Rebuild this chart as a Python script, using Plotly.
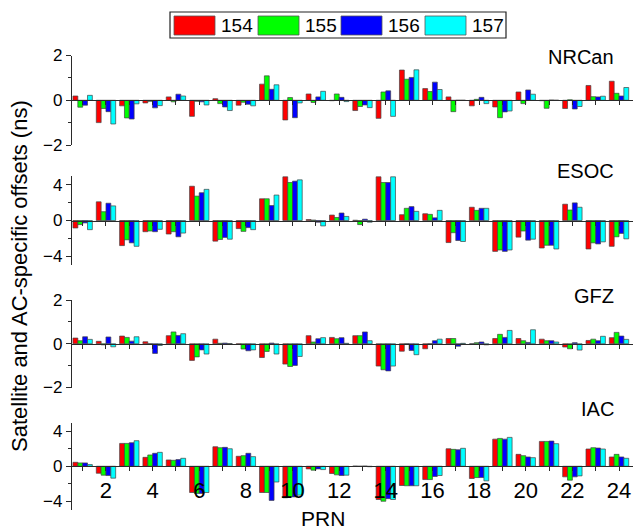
import plotly.graph_objects as go

# ---- data -------------------------------------------------------------
prn = list(range(1, 25))
series_names = ["154", "155", "156", "157"]
series_colors = ["#FF0000", "#00FF00", "#0000FF", "#00FFFF"]
centers = ["NRCan", "ESOC", "GFZ", "IAC"]

nrcan_154 = [0.19, -1.00, -0.25, -0.12, 0.15, -0.72, 0.07, -0.22, 0.72, -0.88, 0.28, -0.02,
             -0.46, -0.81, 1.35, 0.52, 0.15, -0.25, -0.30, 0.37, -0.02, -0.37, 0.66, 0.85]
nrcan_155 = [-0.31, -0.37, -0.79, -0.05, -0.07, -0.05, -0.15, -0.09, 1.09, 0.12, -0.10, 0.28,
             -0.28, 0.37, 0.94, 0.39, -0.51, 0.04, -0.78, -0.15, -0.36, 0.02, 0.16, 0.31]
nrcan_156 = [-0.22, -0.51, -0.84, -0.34, 0.27, -0.07, -0.30, -0.18, 0.49, -0.78, 0.15, 0.13,
             -0.21, 0.42, 1.02, 0.81, 0.00, 0.13, -0.52, 0.46, 0.01, -0.39, 0.15, 0.19]
nrcan_157 = [0.22, -1.06, -0.16, -0.24, 0.19, -0.21, -0.46, -0.25, 0.69, -0.12, 0.40, -0.06,
             -0.33, -0.72, 1.36, 0.48, 0.00, -0.15, -0.48, 0.27, 0.00, -0.28, 0.18, 0.57]

esoc_154 = [-0.84, 2.10, -2.82, -1.26, -1.52, 3.85, -2.32, -0.91, 2.44, 4.91, 0.11, 0.61,
            0.03, 4.91, 0.65, 0.76, -2.48, 1.49, -3.47, -1.87, -3.09, 1.83, -3.20, -2.90]
esoc_155 = [-0.46, 0.99, -2.17, -1.18, -1.26, 2.74, -2.13, -1.22, 2.44, 4.27, 0.05, 0.34,
            -0.46, 4.27, 1.37, 0.69, -1.37, 1.14, -3.31, -1.18, -2.78, 1.18, -2.51, -1.83]
esoc_156 = [-0.27, 1.94, -2.51, -1.26, -1.83, 3.12, -1.90, -0.80, 1.68, 4.42, -0.19, 0.84,
            0.15, 4.27, 1.56, 0.30, -2.25, 1.37, -3.47, -2.21, -2.78, 1.98, -2.63, -1.45]
esoc_157 = [-1.03, 1.64, -2.90, -0.99, -1.41, 3.50, -2.10, -1.03, 2.86, 4.57, -0.61, 0.46,
            -0.19, 4.91, 1.03, 1.14, -2.36, 1.37, -3.31, -2.10, -3.20, 1.49, -2.40, -2.06]

gfz_154 = [0.26, 0.11, 0.35, 0.09, 0.37, -0.76, 0.21, -0.02, -0.63, -0.93, 0.37, 0.29,
           0.37, -1.02, -0.34, -0.23, 0.24, 0.00, 0.24, 0.24, 0.21, -0.15, 0.15, 0.28]
gfz_155 = [0.14, -0.05, 0.29, 0.00, 0.54, -0.60, 0.02, -0.24, -0.35, -1.04, 0.08, 0.23,
           0.37, -1.19, 0.00, 0.00, 0.24, 0.05, 0.43, 0.14, 0.14, -0.23, 0.21, 0.52]
gfz_156 = [0.32, 0.31, 0.12, -0.44, 0.38, -0.28, 0.03, -0.32, 0.03, -0.99, 0.23, 0.28,
           0.54, -1.24, -0.31, 0.14, -0.11, 0.08, 0.29, 0.06, 0.14, 0.05, 0.14, 0.35]
gfz_157 = [0.20, -0.14, 0.32, -0.08, 0.46, -0.47, 0.01, -0.28, -0.47, -0.58, 0.28, 0.02,
           0.14, -1.02, -0.50, 0.21, 0.02, -0.05, 0.61, 0.64, 0.08, -0.29, 0.34, 0.20]

iac_154 = [0.45, -0.80, 2.61, 1.02, 0.72, -3.00, 2.23, 1.14, -3.00, -3.60, -0.30, -0.83,
           0.02, -3.80, -2.20, -1.52, 2.00, -1.40, 3.10, 1.36, 2.84, -1.21, 1.97, 1.06]
iac_155 = [0.38, -1.02, 2.61, 1.29, 0.68, -3.10, 2.12, 1.21, -3.00, -3.50, -0.45, -0.98,
           0.00, -4.00, -2.23, -1.52, 1.93, -1.29, 3.18, 1.21, 2.84, -1.59, 2.12, 1.36]
iac_156 = [0.38, -1.06, 2.69, 1.48, 0.76, -3.10, 2.16, 1.48, -3.90, -3.50, -0.30, -1.06,
           0.02, -3.70, -2.23, -1.17, 1.89, -1.29, 3.10, 1.06, 2.88, -1.21, 2.08, 1.06]
iac_157 = [0.19, -1.36, 2.92, 1.59, 0.91, -3.00, 2.00, 1.10, -1.80, -3.30, -0.38, -1.02,
           -0.05, -3.80, -2.23, -1.06, 2.05, -1.67, 3.30, 0.98, 2.58, -1.10, 1.97, 0.91]

panel_values = [
    [nrcan_154, nrcan_155, nrcan_156, nrcan_157],
    [esoc_154, esoc_155, esoc_156, esoc_157],
    [gfz_154, gfz_155, gfz_156, gfz_157],
    [iac_154, iac_155, iac_156, iac_157],
]
y_limits = [2, 5, 2, 5]
y_major = [[-2, 0, 2], [-4, 0, 4], [-2, 0, 2], [-4, 0, 4]]
y_minor = [[-1, 1], [-2, 2], [-1, 1], [-2, 2]]
x_ticktext = [str(p) if p % 2 == 0 else "" for p in prn]

# ---- layout geometry (pixels) ----------------------------------------
W, H = 633, 532
ML = 71
PW = W - ML
FONT = "Liberation Sans, Arial, sans-serif"
AXIS_COLOR = "#2a2a2a"


def fx(px):
    return (px - ML) / PW


def fy(py):
    return 1 - py / H


panel_px = [(55.5, 145.0), (176.0, 265.0), (300.0, 387.5), (422.5, 510.0)]

fig = go.Figure()
layout = dict(
    width=W, height=H,
    margin=dict(l=ML, r=0, t=0, b=0, autoexpand=False),
    paper_bgcolor="white", plot_bgcolor="white",
    barmode="group", bargap=0.17, bargroupgap=0.0,
    showlegend=False,
    font=dict(family=FONT, color="black"),
)

for i, (vals, lim) in enumerate(zip(panel_values, y_limits)):
    n = i + 1
    xa = "x" if n == 1 else f"x{n}"
    ya = "y" if n == 1 else f"y{n}"
    for name, color, v in zip(series_names, series_colors, vals):
        fig.add_trace(go.Bar(
            x=prn, y=v, name=name, xaxis=xa, yaxis=ya,
            marker=dict(color=color, line=dict(color="#444444", width=0.7)),
        ))
    top, bot = panel_px[i]
    d0, d1 = fy(bot), fy(top)
    layout[f"xaxis{n}"] = dict(
        domain=[0, 1], range=[0.5, 24.6], anchor="free",
        position=(d0 + d1) / 2,
        showline=True, linecolor=AXIS_COLOR, linewidth=1.2,
        ticks="outside", ticklen=4, tickwidth=1, tickcolor=AXIS_COLOR,
        tickvals=prn, ticktext=x_ticktext,
        showticklabels=(n == 4),
        tickfont=dict(size=22, family=FONT, color="black"),
        showgrid=False, zeroline=False, automargin=False,
    )
    layout[f"yaxis{n}"] = dict(
        domain=[d0, d1], range=[-lim, lim], anchor="free", position=0,
        showline=True, linecolor=AXIS_COLOR, linewidth=1.2,
        ticks="outside", ticklen=5, tickwidth=1, tickcolor=AXIS_COLOR,
        tickvals=y_major[i],
        minor=dict(tickvals=y_minor[i], ticks="outside", ticklen=3,
                   tickcolor=AXIS_COLOR, showgrid=False),
        tickfont=dict(size=17, family=FONT, color="black"),
        showgrid=False, zeroline=False, automargin=False,
    )

fig.update_layout(**layout)

# panel labels
title_px = [(616, 57), (616, 171), (616, 296), (616, 409)]
annotations = []
for name, (px, py) in zip(centers, title_px):
    annotations.append(dict(
        text=name, x=fx(px), y=fy(py), xref="paper", yref="paper",
        xanchor="right", yanchor="middle", showarrow=False,
        font=dict(size=20, family=FONT, color="black"),
    ))

# axis titles
annotations.append(dict(
    text="PRN", x=fx(323), y=fy(518), xref="paper", yref="paper",
    xanchor="center", yanchor="middle", showarrow=False,
    font=dict(size=21, family=FONT, color="black"),
))
annotations.append(dict(
    text="Satellite and AC-specific offsets (ns)", x=fx(19), y=fy(276),
    xref="paper", yref="paper", xanchor="center", yanchor="middle",
    textangle=-90, showarrow=False,
    font=dict(size=22, family=FONT, color="black"),
))

# legend box drawn with shapes
shapes = [dict(type="rect", xref="paper", yref="paper",
               x0=fx(170), x1=fx(506), y0=fy(38), y1=fy(12),
               line=dict(color="#222222", width=1.2), fillcolor="white")]
swatch_left = [174, 258, 341, 425]
for name, color, sx in zip(series_names, series_colors, swatch_left):
    shapes.append(dict(type="rect", xref="paper", yref="paper",
                       x0=fx(sx), x1=fx(sx + 41), y0=fy(35), y1=fy(16),
                       line=dict(color="#555555", width=0.8), fillcolor=color))
    annotations.append(dict(
        text=name, x=fx(sx + 45), y=fy(25.5), xref="paper", yref="paper",
        xanchor="left", yanchor="middle", showarrow=False,
        font=dict(size=19, family=FONT, color="black"),
    ))

fig.update_layout(annotations=annotations, shapes=shapes)
fig.write_html("out.html")
